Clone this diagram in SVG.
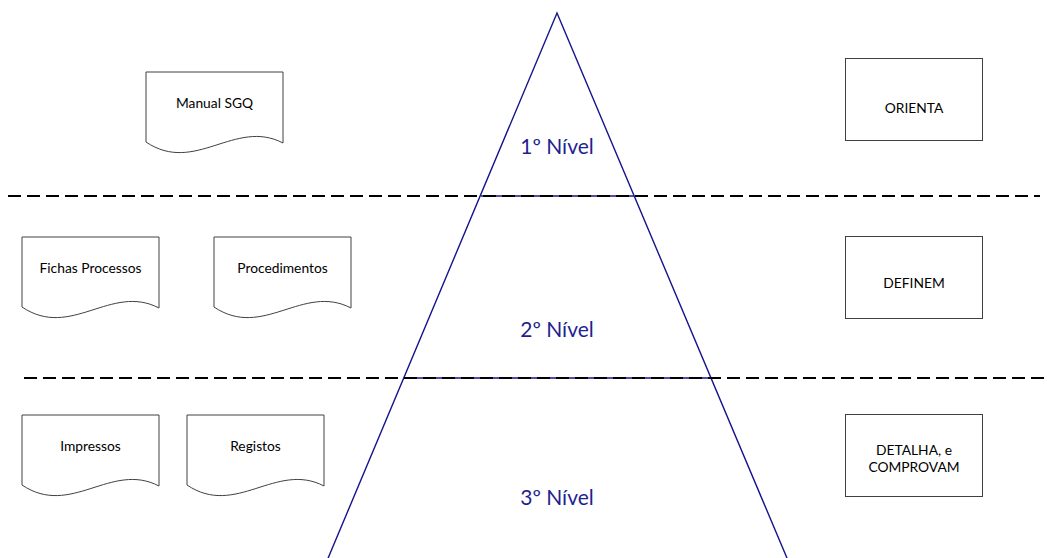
<svg xmlns="http://www.w3.org/2000/svg" xmlns:xlink="http://www.w3.org/1999/xlink" width="1047" height="558" viewBox="0 0 1047 558">
<style>
.doc{fill:#fff;stroke:#404040;stroke-width:1}
.box{fill:#fff;stroke:#404040;stroke-width:1}
.t{font-family:Lato,"Liberation Sans",sans-serif;font-size:13.8px;fill:#000;text-anchor:middle}
.lvl{font-family:Lato,"Liberation Sans",sans-serif;font-size:21px;fill:#1f1f8f;text-anchor:middle}
.tri{fill:none;stroke:#14148c;stroke-width:1.4}
.dash{fill:none;stroke:#000;stroke-width:2;stroke-dasharray:13 6}
</style>
<defs>
<path id="docshape" d="M0,70 V0 H137 V71 C89,46 49,103 0,70 Z"/>
</defs>
<rect width="1047" height="558" fill="#fff"/>
<g id="pyramid">
<polyline class="tri" points="327.3,560 557,13 787.8,560"/>
<line class="tri" x1="481" y1="196" x2="634" y2="196"/>
<line class="tri" x1="404" y1="378" x2="711" y2="378"/>
</g>
<g id="connectors">
<line class="dash" x1="8" y1="196" x2="1040" y2="196"/>
<line class="dash" x1="24" y1="378" x2="1047" y2="378"/>
</g>
<g id="level1"><text class="lvl" x="557" y="154">1º Nível</text></g>
<g id="level2"><text class="lvl" x="557" y="337">2º Nível</text></g>
<g id="level3"><text class="lvl" x="557" y="505">3º Nível</text></g>
<g id="manual"><use xlink:href="#docshape" class="doc" x="146" y="72"/><text class="t" x="214.5" y="107.5">Manual SGQ</text></g>
<g id="fichas"><use xlink:href="#docshape" class="doc" x="22" y="237"/><text class="t" x="90.5" y="272.5">Fichas Processos</text></g>
<g id="procedimentos"><use xlink:href="#docshape" class="doc" x="214" y="237"/><text class="t" x="282.5" y="272.5">Procedimentos</text></g>
<g id="impressos"><use xlink:href="#docshape" class="doc" x="22" y="415"/><text class="t" x="90.5" y="450.5">Impressos</text></g>
<g id="registos"><use xlink:href="#docshape" class="doc" x="187" y="415"/><text class="t" x="255.5" y="450.5">Registos</text></g>
<g id="orienta"><rect class="box" x="845.5" y="58.5" width="137" height="82"/><text class="t" x="914" y="112.5">ORIENTA</text></g>
<g id="definem"><rect class="box" x="845.5" y="236.5" width="137" height="82"/><text class="t" x="914" y="287.5">DEFINEM</text></g>
<g id="detalha"><rect class="box" x="845.5" y="414.5" width="137" height="82"/><text class="t" x="914" y="455">DETALHA, e</text><text class="t" x="914" y="472">COMPROVAM</text></g>
</svg>
